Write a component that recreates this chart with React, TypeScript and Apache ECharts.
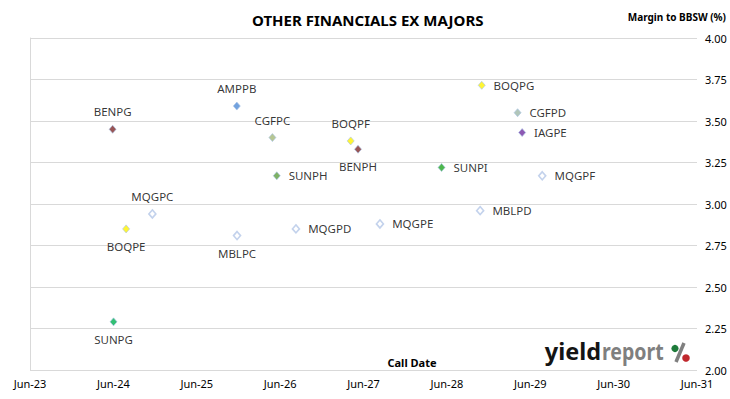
import React, { useEffect, useRef } from "react";
import * as echarts from "echarts";

// ---- Data ----
const issuers = [
  "BENPG", "SUNPG", "BOQPE", "MQGPC", "AMPPB", "MBLPC", "CGFPC", "SUNPH", "MQGPD",
  "BOQPF", "BENPH", "MQGPE", "SUNPI", "MBLPD", "BOQPG", "CGFPD", "IAGPE", "MQGPF",
];
const callDates = [
  "2024-05-28", "2024-06-01", "2024-07-26", "2024-11-18", "2025-11-23", "2025-11-24",
  "2026-04-28", "2026-05-17", "2026-08-09", "2027-04-06", "2027-05-08", "2027-08-12",
  "2028-05-08", "2028-10-24", "2028-10-31", "2029-04-06", "2029-04-26", "2029-07-23",
];
const margins = [
  3.45, 2.29, 2.85, 2.94, 3.59, 2.81, 3.40, 3.17, 2.85,
  3.38, 3.33, 2.88, 3.22, 2.96, 3.715, 3.55, 3.43, 3.17,
];
const xTickYears = ["23", "24", "25", "26", "27", "28", "29", "30", "31"];
const yMin = 2.0;
const yMax = 4.0;
const yStep = 0.25;

// ---- Styles (kept apart from data) ----
const HOLLOW = "hollow";
const fillByIssuer: Record<string, string> = {
  BENPG: "#7F2A2A", BENPH: "#7F2A2A",
  AMPPB: "#4F8BD6",
  CGFPC: "#A4B878", CGFPD: "#9DB8A8",
  BOQPE: "#FFF200", BOQPF: "#FFF200", BOQPG: "#FFF200",
  SUNPG: "#00B050", SUNPH: "#5E9E3E", SUNPI: "#1FA51F",
  IAGPE: "#7030A0",
  MQGPC: HOLLOW, MQGPD: HOLLOW, MQGPE: HOLLOW, MQGPF: HOLLOW, MBLPC: HOLLOW, MBLPD: HOLLOW,
};
const labelPosByIssuer: Record<string, string> = {
  BENPG: "top", AMPPB: "top", CGFPC: "top", BOQPF: "top", MQGPC: "top",
  BENPH: "bottom", MBLPC: "bottom", BOQPE: "bottom", SUNPG: "bottom",
};

const FONT = "'Noto Sans', sans-serif";

function yearsSinceStart(d: string): number {
  const base = Date.UTC(2023, 5, 1);
  return (Date.parse(d + "T00:00:00Z") - base) / (365.25 * 86400000);
}

export default function App() {
  const ref = useRef<HTMLDivElement>(null);

  useEffect(() => {
    document.body.style.margin = "0";
    if (!ref.current) return;
    const chart = echarts.init(ref.current, null, { renderer: "svg" });

    const data = issuers.map((name, i) => {
      const fill = fillByIssuer[name];
      const hollow = fill === HOLLOW;
      const pos = labelPosByIssuer[name] || "right";
      return {
        name,
        value: [yearsSinceStart(callDates[i]), margins[i]],
        itemStyle: {
          color: hollow ? "#FFFFFF" : fill,
          borderColor: hollow ? "#B4C7E7" : "#A9C4E6",
          borderWidth: hollow ? 1.6 : 0.8,
        },
        label: {
          position: pos,
          distance: pos === "right" ? 8 : 7,
        },
      };
    });

    chart.setOption({
      animation: false,
      backgroundColor: "#FFFFFF",
      title: {
        text: "OTHER FINANCIALS EX MAJORS",
        left: 247,
        top: 7,
        textStyle: { fontFamily: FONT, fontSize: 15, fontWeight: "bold", color: "#000000" },
      },
      grid: { left: 30, right: 33, top: 38, bottom: 29, containLabel: false },
      xAxis: {
        type: "value",
        min: 0,
        max: xTickYears.length - 1,
        interval: 1,
        axisLine: { show: false },
        axisTick: { show: false },
        splitLine: { show: false },
        axisLabel: {
          margin: 8,
          fontFamily: FONT,
          fontSize: 11,
          color: "#000000",
          formatter: (v: number) => "Jun-" + xTickYears[Math.round(v)],
        },
      },
      yAxis: [
        {
          type: "value",
          position: "right",
          min: yMin,
          max: yMax,
          interval: yStep,
          axisLine: { show: false },
          axisTick: { show: false },
          splitLine: { show: true, lineStyle: { color: "#D9D9D9", width: 1 } },
          axisLabel: {
            margin: 8,
            fontFamily: FONT,
            fontSize: 11,
            color: "#000000",
            formatter: (v: number) => v.toFixed(2),
          },
        },
        {
          type: "value",
          position: "left",
          min: yMin,
          max: yMax,
          interval: yStep,
          axisLine: { show: true, lineStyle: { color: "#D9D9D9", width: 1 } },
          axisTick: { show: false },
          splitLine: { show: false },
          axisLabel: { show: false },
        },
      ],
      series: [
        {
          type: "scatter",
          yAxisIndex: 0,
          symbol: "diamond",
          symbolSize: [7, 8],
          data,
          label: {
            show: true,
            formatter: "{b}",
            fontFamily: FONT,
            fontSize: 11.5,
            color: "#000000",
          },
        },
      ],
      graphic: [
        {
          type: "text",
          right: 4,
          top: 12,
          style: {
            text: "Margin to BBSW (%)",
            font: "bold 10px " + FONT,
            fill: "#000000",
          },
        },
        {
          type: "text",
          x: 412,
          y: 362,
          style: {
            text: "Call Date",
            font: "bold 11px " + FONT,
            fill: "#000000",
            textAlign: "center",
            textVerticalAlign: "middle",
          },
        },
        {
          type: "text",
          x: 601,
          y: 351,
          scaleX: 1.02,
          style: {
            text: "yield",
            font: "bold 23px " + FONT,
            fill: "#141414",
            textAlign: "right",
            textVerticalAlign: "middle",
          },
        },
        {
          type: "text",
          x: 602,
          y: 351,
          scaleX: 0.85,
          style: {
            text: "report",
            font: "bold 23px " + FONT,
            fill: "#7F7F7F",
            textAlign: "left",
            textVerticalAlign: "middle",
          },
        },
        {
          type: "line",
          shape: { x1: 684, y1: 343, x2: 676, y2: 362 },
          style: { stroke: "#7F7F7F", lineWidth: 3.5 },
        },
        {
          type: "circle",
          shape: { cx: 675, cy: 348.5, r: 3.6 },
          style: { fill: "#1E7B3A" },
        },
        {
          type: "circle",
          shape: { cx: 686, cy: 358, r: 3.8 },
          style: { fill: "#C0282D" },
        },
      ],
    });

    return () => chart.dispose();
  }, []);

  return <div ref={ref} style={{ width: 730, height: 399 }} />;
}
